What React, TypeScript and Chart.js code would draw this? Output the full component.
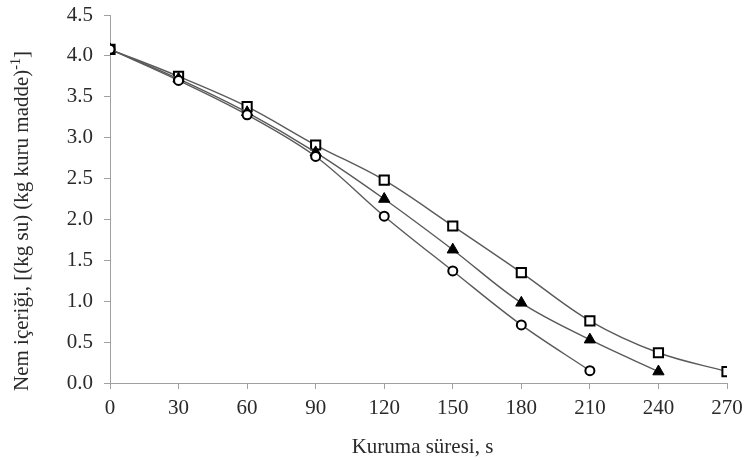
import React, { useEffect, useRef } from "react";
import { Chart, registerables } from "chart.js";

Chart.register(...registerables);

const times = [0, 30, 60, 90, 120, 150, 180, 210, 240, 270];
const squareValues = [4.08, 3.75, 3.38, 2.91, 2.48, 1.92, 1.35, 0.76, 0.37, 0.14];
const triangleValues = [4.08, 3.72, 3.31, 2.82, 2.25, 1.63, 0.98, 0.53, 0.14];
const circleValues = [4.08, 3.7, 3.28, 2.77, 2.04, 1.37, 0.71, 0.15];
const yTitleMain = "Nem içeriği, [(kg su) (kg kuru madde)";
const yTitleSup = "-1";
const yTitleEnd = "]";
const xTitle = "Kuruma süresi, s";

const pts = (vals: number[]) => vals.map((v, i) => ({ x: times[i], y: v }));
const FONT = "'Liberation Serif', 'Times New Roman', serif";
const TEXT = "#2a2a2a";

const titlesPlugin = {
  id: "titles",
  afterDraw(chart: any) {
    const ctx = chart.ctx;
    const area = chart.chartArea;
    ctx.save();
    ctx.fillStyle = TEXT;
    ctx.textBaseline = "middle";
    ctx.font = `21px ${FONT}`;
    ctx.textAlign = "center";
    ctx.fillText(xTitle, (area.left + area.right) / 2 + 4, 447);
    ctx.translate(22, 221);
    ctx.rotate(-Math.PI / 2);
    ctx.font = `21px ${FONT}`;
    const w1 = ctx.measureText(yTitleMain).width;
    ctx.font = `14px ${FONT}`;
    const w2 = ctx.measureText(yTitleSup).width;
    ctx.font = `21px ${FONT}`;
    const w3 = ctx.measureText(yTitleEnd).width;
    const total = w1 + w2 + w3;
    let x = -total / 2;
    ctx.textAlign = "left";
    ctx.fillText(yTitleMain, x, 0);
    x += w1;
    ctx.font = `14px ${FONT}`;
    ctx.fillText(yTitleSup, x, -6);
    x += w2;
    ctx.font = `21px ${FONT}`;
    ctx.fillText(yTitleEnd, x, 0);
    ctx.restore();
  },
};

export default function App() {
  const ref = useRef<HTMLCanvasElement | null>(null);
  useEffect(() => {
    document.body.style.margin = "0";
    const lineColor = "#5a5a5a";
    const common = {
      borderColor: lineColor,
      borderWidth: 1.4,
      tension: 0.35,
      pointBorderColor: "#000",
      pointBorderWidth: 2,
    };
    const chart = new Chart(ref.current!, {
      type: "line",
      data: {
        datasets: [
          {
            ...common,
            label: "circle",
            data: pts(circleValues),
            pointStyle: "circle",
            pointRadius: 4.5,
            pointBackgroundColor: "#fff",
          },
          {
            ...common,
            label: "triangle",
            data: pts(triangleValues),
            pointStyle: "triangle",
            pointRadius: 6.5,
            pointBorderWidth: 1,
            pointBackgroundColor: "#000",
          },
          {
            ...common,
            label: "square",
            data: pts(squareValues),
            pointStyle: "rect",
            pointRadius: 6.5,
            pointBackgroundColor: squareValues.map((_, i) => (i === 0 ? "#000" : "#fff")),
          },
        ],
      },
      plugins: [titlesPlugin],
      options: {
        animation: false,
        responsive: false,
        layout: { padding: { left: 0, right: 18, top: 15, bottom: 0 } },
        plugins: { legend: { display: false }, tooltip: { enabled: false } },
        scales: {
          x: {
            type: "linear",
            min: 0,
            max: 270,
            afterFit: (s: any) => {
              s.height = 77;
              s.paddingLeft = 0;
              s.paddingRight = 0;
            },
            border: { color: "#a0a0a0", width: 1 },
            grid: { drawOnChartArea: false, drawTicks: true, tickLength: 6, color: "#a0a0a0" },
            ticks: {
              stepSize: 30,
              color: TEXT,
              font: { family: FONT, size: 21 },
              padding: 7,
              maxRotation: 0,
            },
          },
          y: {
            min: 0,
            max: 4.5,
            afterFit: (s: any) => {
              s.width = 110;
              s.paddingTop = 0;
              s.paddingBottom = 0;
            },
            border: { color: "#a0a0a0", width: 1 },
            grid: { drawOnChartArea: false, drawTicks: true, tickLength: 6, color: "#a0a0a0" },
            ticks: {
              stepSize: 0.5,
              color: TEXT,
              font: { family: FONT, size: 21 },
              padding: 11,
              callback: (v: any) => Number(v).toFixed(1),
            },
          },
        },
      },
    });
    return () => chart.destroy();
  }, []);
  return (
    <div style={{ width: 745, height: 460, background: "#fff" }}>
      <canvas ref={ref} width={745} height={460} />
    </div>
  );
}
